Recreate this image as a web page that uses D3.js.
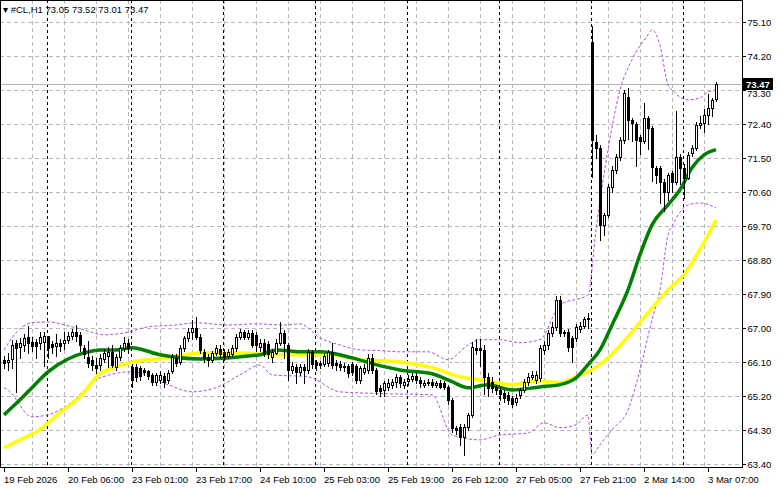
<!DOCTYPE html>
<html><head><meta charset="utf-8">
<script src="https://cdn.jsdelivr.net/npm/d3@7"></script>
<style>body{margin:0;background:#fff}svg{display:block;font-family:"Liberation Sans",Arial,sans-serif}</style>
</head><body><svg id="c" width="781" height="489"></svg>
<script>
const opens=[66.16,66.10,66.19,66.61,66.50,66.56,66.77,66.64,66.62,66.60,66.62,66.78,66.58,66.52,66.60,66.60,66.67,66.79,66.90,66.82,66.48,66.24,66.16,66.03,66.02,66.18,66.26,66.37,65.98,66.24,66.48,66.61,65.97,65.97,65.95,65.90,65.85,65.75,65.58,65.63,65.72,65.62,65.86,66.21,66.10,66.48,66.74,66.90,67.00,66.77,66.37,66.24,66.16,66.34,66.45,66.37,66.26,66.30,66.48,66.77,66.90,66.77,66.87,66.82,66.50,66.61,66.58,66.24,66.35,66.61,66.87,66.56,65.89,65.98,65.84,65.97,65.89,66.37,66.10,66.08,66.05,66.08,66.37,66.08,66.05,66.00,66.00,66.05,66.00,65.63,65.84,65.89,66.21,65.89,65.42,65.36,65.45,65.50,65.58,65.71,65.50,65.60,65.66,65.74,65.63,65.50,65.55,65.58,65.50,65.55,65.55,65.45,65.10,64.36,64.38,64.12,64.38,64.70,66.48,66.48,66.42,65.71,65.58,65.45,65.36,65.28,65.22,65.15,65.05,65.22,65.36,65.58,65.71,65.63,65.68,66.42,66.56,66.87,67.03,67.75,66.90,66.90,66.74,66.74,66.98,67.05,67.24,74.57,71.93,71.77,69.73,69.99,70.72,71.19,71.53,71.98,73.12,72.51,72.40,72.05,71.95,72.56,72.30,71.24,71.24,70.87,70.60,71.10,70.87,71.53,71.24,70.98,71.63,71.77,72.38,72.43,72.64,72.83,73.05];
const highs=[66.25,66.35,66.69,66.69,66.74,66.85,67.05,66.75,66.72,66.90,66.90,66.80,66.65,66.85,66.70,66.90,66.90,66.98,67.08,66.90,66.55,66.65,66.25,66.20,66.30,66.45,66.50,66.55,66.30,66.55,66.75,66.70,66.05,66.05,66.00,65.95,65.90,65.82,65.80,65.85,65.80,65.88,66.30,66.30,66.55,66.80,67.00,67.20,67.30,66.85,66.45,66.30,66.40,66.55,66.55,66.45,66.45,66.55,66.85,66.98,66.95,66.95,66.95,66.90,66.70,66.70,66.65,66.45,66.70,67.15,66.95,66.60,66.10,66.05,66.05,66.05,66.45,66.42,66.15,66.12,66.32,66.42,66.60,66.15,66.12,66.08,66.05,66.10,66.05,66.00,66.05,66.30,66.30,65.95,65.50,65.60,65.65,65.65,65.78,65.75,65.65,65.75,65.80,65.80,65.70,65.62,65.65,65.65,65.60,65.62,65.60,65.50,65.15,64.40,64.45,64.45,64.75,66.62,66.72,66.70,66.55,65.80,65.70,65.50,65.45,65.35,65.30,65.20,65.25,65.42,65.65,65.80,65.85,65.85,66.55,66.65,66.95,67.15,67.85,67.85,66.95,66.98,66.80,67.10,67.15,67.30,67.40,75.00,72.10,71.85,70.05,70.80,71.30,71.60,72.05,73.30,73.35,72.55,72.45,72.10,72.95,72.60,72.35,71.30,71.30,70.95,71.10,71.15,72.75,71.60,71.35,71.65,71.85,72.45,72.60,72.80,73.20,73.10,73.52];
const lows=[65.95,65.90,65.95,65.30,66.20,66.40,66.35,66.40,66.20,66.45,66.00,66.20,66.35,66.25,66.40,66.45,66.60,66.72,66.65,66.40,66.20,65.96,65.90,65.80,65.90,66.10,65.98,65.98,65.90,66.15,66.40,66.35,65.45,65.60,65.62,65.75,65.65,65.50,65.50,65.55,65.45,65.55,65.80,66.00,66.05,66.40,66.65,66.70,66.70,66.35,66.10,66.00,66.10,66.28,66.20,66.15,66.20,66.25,66.40,66.70,66.70,66.70,66.50,66.40,66.40,66.25,66.20,66.10,66.30,66.55,66.20,65.63,65.80,65.55,65.75,65.55,65.80,65.95,65.90,65.95,66.00,66.00,65.95,65.90,65.90,65.85,65.70,65.75,65.55,65.55,65.78,65.80,65.80,65.25,65.20,65.20,65.35,65.40,65.45,65.45,65.40,65.50,65.60,65.55,65.45,65.45,65.48,65.45,65.45,65.40,65.38,65.00,64.25,64.20,63.90,63.65,64.30,64.65,66.30,66.00,65.24,65.20,65.30,65.25,65.10,65.05,65.00,64.90,64.95,65.15,65.30,65.50,65.65,65.55,65.60,66.30,66.45,66.80,66.95,66.80,66.80,66.40,66.10,66.65,66.90,67.00,67.00,71.00,71.50,69.33,69.45,69.95,70.60,71.10,71.45,71.90,72.00,71.95,71.30,71.60,71.90,71.75,70.90,70.85,70.30,70.10,70.40,70.60,70.80,70.80,70.45,70.95,71.55,71.70,72.30,72.20,72.40,72.60,73.01];
const closes=[66.08,66.14,66.55,66.48,66.61,66.74,66.61,66.53,66.52,66.77,66.78,66.48,66.50,66.60,66.53,66.69,66.78,66.90,66.78,66.56,66.30,66.08,66.02,65.95,66.21,66.34,66.37,66.02,66.24,66.48,66.61,66.48,65.63,65.70,65.72,65.84,65.72,65.58,65.75,65.76,65.58,65.82,66.24,66.08,66.48,66.74,66.90,67.00,66.77,66.42,66.21,66.16,66.34,66.48,66.30,66.24,66.37,66.48,66.77,66.90,66.77,66.87,66.56,66.56,66.61,66.30,66.32,66.37,66.61,66.87,66.61,65.89,66.00,65.84,65.97,65.89,66.37,66.05,66.02,66.03,66.26,66.37,66.02,66.02,65.97,65.97,65.82,65.84,65.63,65.95,65.95,66.21,65.89,65.32,65.32,65.55,65.55,65.58,65.71,65.55,65.58,65.66,65.74,65.63,65.55,65.55,65.58,65.50,65.55,65.45,65.45,65.10,64.36,64.31,64.12,64.38,64.70,66.50,66.42,66.42,65.71,65.42,65.42,65.36,65.24,65.15,65.10,65.00,65.15,65.36,65.58,65.71,65.76,65.76,66.48,66.56,66.87,67.03,67.75,66.87,66.87,66.50,66.50,67.03,67.05,67.24,67.27,71.98,71.77,69.73,69.99,70.72,71.19,71.53,71.98,73.22,72.51,72.43,71.98,71.95,72.56,72.30,71.27,71.05,70.87,70.60,71.05,70.87,71.53,71.24,70.98,71.58,71.77,72.38,72.43,72.64,72.83,73.04,73.47];

const fastMaIdx=[0,4,7,11,16,20,24,28,32,39,49,64,68,74,79,87,93,99,107,112,116,121,127,134,139,143,146,149,152,156,159,162,166,169,172,175,178];
const fastMa=[64.70,65.10,65.42,65.84,66.18,66.34,66.42,66.42,66.48,66.29,66.18,66.29,66.42,66.37,66.37,66.21,66.03,65.89,65.79,65.58,65.42,65.50,65.36,65.44,65.50,65.68,66.03,66.42,67.08,68.01,68.94,69.73,70.26,70.66,71.24,71.58,71.72];
const slowMaIdx=[0,4,9,14,19,24,28,32,41,49,59,68,74,82,89,99,107,114,121,127,134,139,144,146,151,156,161,166,170,174,178];
const slowMa=[63.83,64.04,64.31,64.76,65.18,65.79,65.97,66.10,66.21,66.34,66.34,66.29,66.29,66.29,66.16,66.10,65.95,65.71,65.60,65.50,65.60,65.55,65.76,65.84,66.21,66.77,67.40,68.01,68.41,69.08,69.86];
const upperIdx=[0,3,7,11,16,20,25,30,36,43,48,56,63,70,74,79,84,89,94,99,106,111,116,119,124,129,134,139,146,148,151,154,157,161,162,164,166,167,171,174,176,178];
const upperBand=[66.42,66.87,67.14,67.16,67.06,66.95,66.82,66.87,67.03,67.08,67.14,67.08,67.11,67.08,67.11,66.74,66.55,66.42,66.40,66.37,66.37,66.16,66.55,66.69,66.69,66.61,66.69,67.61,67.88,69.60,71.71,73.30,74.10,74.76,74.89,74.49,73.43,73.30,73.04,73.09,73.25,73.30];
const lowerIdx=[0,1,7,11,16,24,32,41,47,53,59,64,67,76,84,96,107,112,119,124,131,135,139,143,146,147,149,152,156,159,162,164,166,167,171,174,178];
const lowerBand=[65.42,65.36,64.65,64.70,64.97,65.68,65.84,65.50,65.31,65.42,65.76,66.02,65.76,65.71,65.31,65.26,65.23,64.17,64.04,64.17,64.22,64.49,64.36,64.44,64.70,63.65,63.91,64.31,64.83,65.89,67.22,68.01,69.47,69.70,70.26,70.31,70.18];

const priceTicks=[75.10,74.20,73.30,72.40,71.50,70.60,69.70,68.80,67.90,67.00,66.10,65.20,64.30,63.40];
const timeIdx=[0,16,32,48,64,80,96,112,128,144,160,176];
const timeLabels=["19 Feb 2026","20 Feb 06:00","23 Feb 01:00","23 Feb 17:00","24 Feb 10:00","25 Feb 03:00","25 Feb 19:00","26 Feb 12:00","27 Feb 05:00","27 Feb 21:00","2 Mar 14:00","3 Mar 07:00"];
const daySeparators=[11,32,55,78,101,124,147,170];
const lastPrice=73.47;

const svg=d3.select("#c");
const W=742,H=467;
const x=d3.scaleLinear().domain([0,178]).range([4,716]);
const y=d3.scaleLinear().domain([63.40,75.10]).range([464,22]);
const g=svg.append("g").attr("shape-rendering","crispEdges");

const gridX=d3.range(-1,182,8).map(i=>Math.round(x(i))+0.5).filter(v=>v>0&&v<W);
g.selectAll(".gx").data(gridX).join("line").attr("x1",d=>d).attr("x2",d=>d).attr("y1",0).attr("y2",H)
 .attr("stroke","#b8b8b8").attr("stroke-dasharray","4,3");
g.selectAll(".gy").data(priceTicks).join("line").attr("x1",0).attr("x2",W).attr("y1",d=>Math.round(y(d))+0.5).attr("y2",d=>Math.round(y(d))+0.5)
 .attr("stroke","#b8b8b8").attr("stroke-dasharray","4,3");
g.selectAll(".sep").data(daySeparators).join("line").attr("x1",d=>Math.round(x(d))-0.5).attr("x2",d=>Math.round(x(d))-0.5).attr("y1",0).attr("y2",H)
 .attr("stroke","#000").attr("stroke-dasharray","3,3");
g.append("line").attr("x1",0).attr("x2",W).attr("y1",Math.round(y(lastPrice))+0.5).attr("y2",Math.round(y(lastPrice))+0.5).attr("stroke","#b0b0b0");

const bandLine=(idx,vals,cl,w,dash)=>{
  svg.append("path").datum(idx.map((d,i)=>[d,vals[i]]))
   .attr("d",d3.line().x(d=>x(d[0])).y(d=>y(d[1])).curve(d3.curveMonotoneX))
   .attr("fill","none").attr("stroke",cl).attr("stroke-width",w).attr("stroke-dasharray",dash);
};
bandLine(upperIdx,upperBand,"#b04fd8",1,"3,2");
bandLine(lowerIdx,lowerBand,"#b04fd8",1,"3,2");
bandLine(slowMaIdx,slowMa,"#ffff00",3.5,null);
bandLine(fastMaIdx,fastMa,"#008000",3.5,null);

const cg=svg.append("g").attr("shape-rendering","crispEdges");
const idx=d3.range(closes.length);
cg.selectAll(".w").data(idx).join("line")
 .attr("x1",i=>Math.round(x(i))+0.5).attr("x2",i=>Math.round(x(i))+0.5)
 .attr("y1",i=>Math.round(y(highs[i]))).attr("y2",i=>Math.round(y(lows[i]))+1).attr("stroke","#000");
cg.selectAll(".b").data(idx).join("rect")
 .attr("x",i=>Math.round(x(i))-1+0.5).attr("width",2)
 .attr("y",i=>Math.round(y(Math.max(opens[i],closes[i])))+0.5)
 .attr("height",i=>Math.max(1,Math.round(y(Math.min(opens[i],closes[i])))-Math.round(y(Math.max(opens[i],closes[i])))))
 .attr("fill",i=>closes[i]>=opens[i]?"#fff":"#000").attr("stroke","#000");

const fg=svg.append("g").attr("shape-rendering","crispEdges");
fg.append("rect").attr("x",0.5).attr("y",0.5).attr("width",W).attr("height",H).attr("fill","none").attr("stroke","#000");
const yAxis=fg.append("g").attr("transform",`translate(${W+0.5},0)`);
yAxis.selectAll("line").data(priceTicks).join("line").attr("x1",0).attr("x2",3).attr("y1",d=>Math.round(y(d))+0.5).attr("y2",d=>Math.round(y(d))+0.5).attr("stroke","#000");
yAxis.selectAll("text").data(priceTicks.filter(d=>Math.abs(y(d)-y(lastPrice))>10)).join("text").attr("x",5).attr("y",d=>y(d)+4).attr("font-size",9.5).attr("fill","#000").text(d=>d.toFixed(2));
const lp=svg.append("g").attr("transform",`translate(${W+1},${Math.round(y(lastPrice))-6})`);
lp.append("rect").attr("width",30).attr("height",12).attr("fill","#000");
lp.append("text").attr("x",3).attr("y",10).attr("font-size",9.5).attr("font-weight","bold").attr("fill","#fff").text(lastPrice.toFixed(2));
svg.append("text").attr("x",W+5).attr("y",y(73.30)+7).attr("font-size",9.5).attr("fill","#000")
 .attr("clip-path","url(#clipHalf)").text("73.30");
svg.append("clipPath").attr("id","clipHalf").append("rect").attr("x",W).attr("y",Math.round(y(lastPrice))+6).attr("width",40).attr("height",10);
const xAxis=fg.append("g").attr("transform",`translate(0,${H+0.5})`);
xAxis.selectAll("line").data(timeIdx).join("line").attr("x1",d=>Math.round(x(d))+0.5).attr("x2",d=>Math.round(x(d))+0.5).attr("y1",0).attr("y2",4).attr("stroke","#000");
xAxis.selectAll("text").data(timeIdx).join("text").attr("x",d=>x(d)).attr("y",15).attr("font-size",9.5).attr("fill","#000").text((d,i)=>timeLabels[i]);

svg.append("text").attr("x",3).attr("y",13).attr("font-size",9.5).attr("fill","#000")
 .text("\u25BE #CL,H1  "+[opens[178],highs[178],lows[178],closes[178]].map(v=>v.toFixed(2)).join(" "));
</script></body></html>
